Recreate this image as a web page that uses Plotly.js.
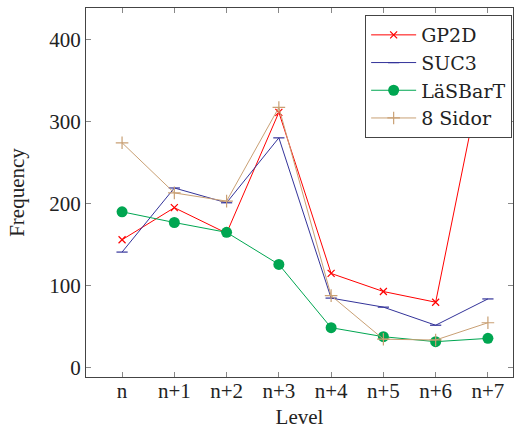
<!DOCTYPE html>
<html>
<head>
<meta charset="utf-8">
<script src="https://cdn.plot.ly/plotly-3.0.1.min.js"></script>
<style>html,body{margin:0;padding:0;background:#fff;}#chart{width:520px;height:429px;}</style>
</head>
<body>
<div id="chart"></div>
<script>
const levels = ["n", "n+1", "n+2", "n+3", "n+4", "n+5", "n+6", "n+7"];
const gp2d = [156, 195, 164, 311, 115, 93, 80, 394];
const suc3 = [141, 219, 201, 280, 85, 74, 52, 84];
const lasbart = [190, 177, 165, 126, 49, 38, 32, 36];
const sidor8 = [274, 213, 203, 317, 88, 35, 34, 55];
const seriesNames = ["GP2D", "SUC3", "LäSBarT", "8 Sidor"];

const font = "Liberation Serif";
const legendFont = "DejaVu Serif";

const traces = [
  {x: levels, y: gp2d, name: seriesNames[0], mode: "lines+markers",
   line: {color: "#ff0000", width: 1},
   marker: {symbol: "x-thin-open", size: 7, line: {color: "#ff0000", width: 1.2}, color: "#ff0000"}},
  {x: levels, y: suc3, name: seriesNames[1], mode: "lines+markers",
   line: {color: "#33339a", width: 1},
   marker: {symbol: "line-ew-open", size: 8, line: {color: "#33339a", width: 1.2}, color: "#33339a"}},
  {x: levels, y: lasbart, name: seriesNames[2], mode: "lines+markers",
   line: {color: "#00a651", width: 1},
   marker: {symbol: "circle", size: 11, color: "#00a651"}},
  {x: levels, y: sidor8, name: seriesNames[3], mode: "lines+markers",
   line: {color: "#c9a074", width: 1},
   marker: {symbol: "cross-thin-open", size: 9, line: {color: "#c9a074", width: 1.2}, color: "#c9a074"}}
];

const layout = {
  width: 520, height: 429,
  margin: {l: 86, r: 7, t: 8, b: 52},
  paper_bgcolor: "#fff", plot_bgcolor: "#fff",
  font: {family: font, size: 21, color: "#222"},
  showlegend: true,
  legend: {
    x: 0.998, y: 0.981, xanchor: "right", yanchor: "top",
    bgcolor: "#fff", bordercolor: "#444", borderwidth: 1,
    font: {family: legendFont, size: 19, color: "#222"},
    tracegroupgap: 0, itemwidth: 45
  },
  xaxis: {
    type: "category",
    range: [-0.69, 7.48],
    showline: true, linecolor: "#444", linewidth: 1, mirror: "ticks",
    ticks: "inside", ticklen: 5, tickcolor: "#888", tickwidth: 1,
    ticklabelstandoff: -5,
    showgrid: false, zeroline: false,
    tickfont: {family: font, size: 21, color: "#222"},
    title: {text: "Level", font: {family: font, size: 21, color: "#222"}, standoff: 16}
  },
  yaxis: {
    range: [-11, 438],
    tickvals: [0, 100, 200, 300, 400],
    showline: true, linecolor: "#444", linewidth: 1, mirror: "ticks",
    ticks: "inside", ticklen: 5, tickcolor: "#888", tickwidth: 1,
    showgrid: false, zeroline: false,
    tickfont: {family: font, size: 21, color: "#222"},
    title: {text: "Frequency", font: {family: font, size: 21, color: "#222"}, standoff: 18}
  }
};

Plotly.newPlot("chart", traces, layout, {displayModeBar: false, staticPlot: true});
</script>
</body>
</html>
